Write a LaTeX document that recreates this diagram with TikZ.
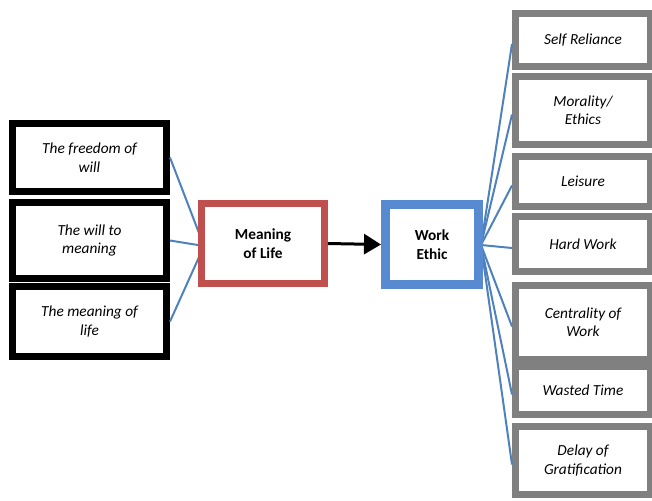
\documentclass[tikz,border=0pt]{standalone}
\usepackage{fontspec}
\setmainfont{Carlito}
\usetikzlibrary{arrows.meta}

\definecolor{lifered}{RGB}{192,80,77}
\definecolor{ethicblue}{RGB}{88,138,210}
\definecolor{linkblue}{RGB}{79,129,189}
\definecolor{boxgray}{RGB}{128,128,128}

\tikzset{
  txt/.style={font=\fontsize{11.5}{13.8}\selectfont, align=center, inner sep=0pt},
  causebox/.style={txt, draw=black, line width=5.25pt, fill=white, font=\fontsize{11.5}{13.8}\selectfont\itshape, minimum width=115.5pt},
  valuebox/.style={txt, draw=boxgray, line width=5.25pt, fill=white, font=\fontsize{11.5}{13.8}\selectfont\itshape, minimum width=101.25pt},
  link/.style={draw=linkblue, line width=1.5pt}
}

\begin{document}
\begin{tikzpicture}[x=0.75pt, y=-0.75pt]
    % canvas in pixel units
    \useasboundingbox (0,0) rectangle (652,500);

    % connectors first, boxes go on top
    \coordinate (lifein) at (204,246);
    \coordinate (workout) at (481,245);

    % left column: what gives meaning
    \node[causebox, minimum height=51pt]   (fw) at (89.5,157.5) {The freedom of\\will};
    \node[causebox, minimum height=57pt]   (wm) at (89.5,240.5) {The will to\\meaning};
    \node[causebox, minimum height=52.5pt] (ml) at (89.5,321.5) {The meaning of\\life};

    % right column: parts of work ethic
    \node[valuebox, minimum height=39.75pt] (sr) at (583,40)    {Self Reliance};
    \node[valuebox, minimum height=51pt]    (mo) at (583,110.5) {Morality/\\Ethics};
    \node[valuebox, minimum height=37.5pt]  (le) at (583,181.5) {Leisure};
    \node[valuebox, minimum height=41.25pt] (hw) at (583,244)   {Hard Work};
    \node[valuebox, minimum height=55.5pt]  (ce) at (583,322.5) {Centrality of\\Work};
    \node[valuebox, minimum height=36pt]    (wt) at (583,390.5) {Wasted Time};
    \node[valuebox, minimum height=51pt]    (de) at (583,460.5) {Delay of\\Gratification};

    % blue links
    \foreach \src in {fw,wm,ml}
        \draw[link] (\src.east) -- (lifein);
    \foreach \dst in {sr,mo,le,hw,ce,wt,de}
        \draw[link] (workout) -- ([yshift=-3pt]\dst.west);

    % the two central concepts
    \node[txt, draw=lifered, line width=5.25pt, fill=white, font=\fontsize{11.5}{13.8}\selectfont\bfseries,
          minimum width=92.25pt, minimum height=60pt] (life) at (263,243.5) {Meaning\\of Life};
    \node[txt, draw=ethicblue, line width=6.75pt, fill=white, font=\fontsize{11.5}{13.8}\selectfont\bfseries,
          minimum width=69.75pt, minimum height=60pt] (work) at (432,244.5) {Work\\Ethic};

    \draw[line width=2.25pt, -{Triangle[length=12.75pt, width=15pt]}] (life.east) -- (work.west);
\end{tikzpicture}
\end{document}
